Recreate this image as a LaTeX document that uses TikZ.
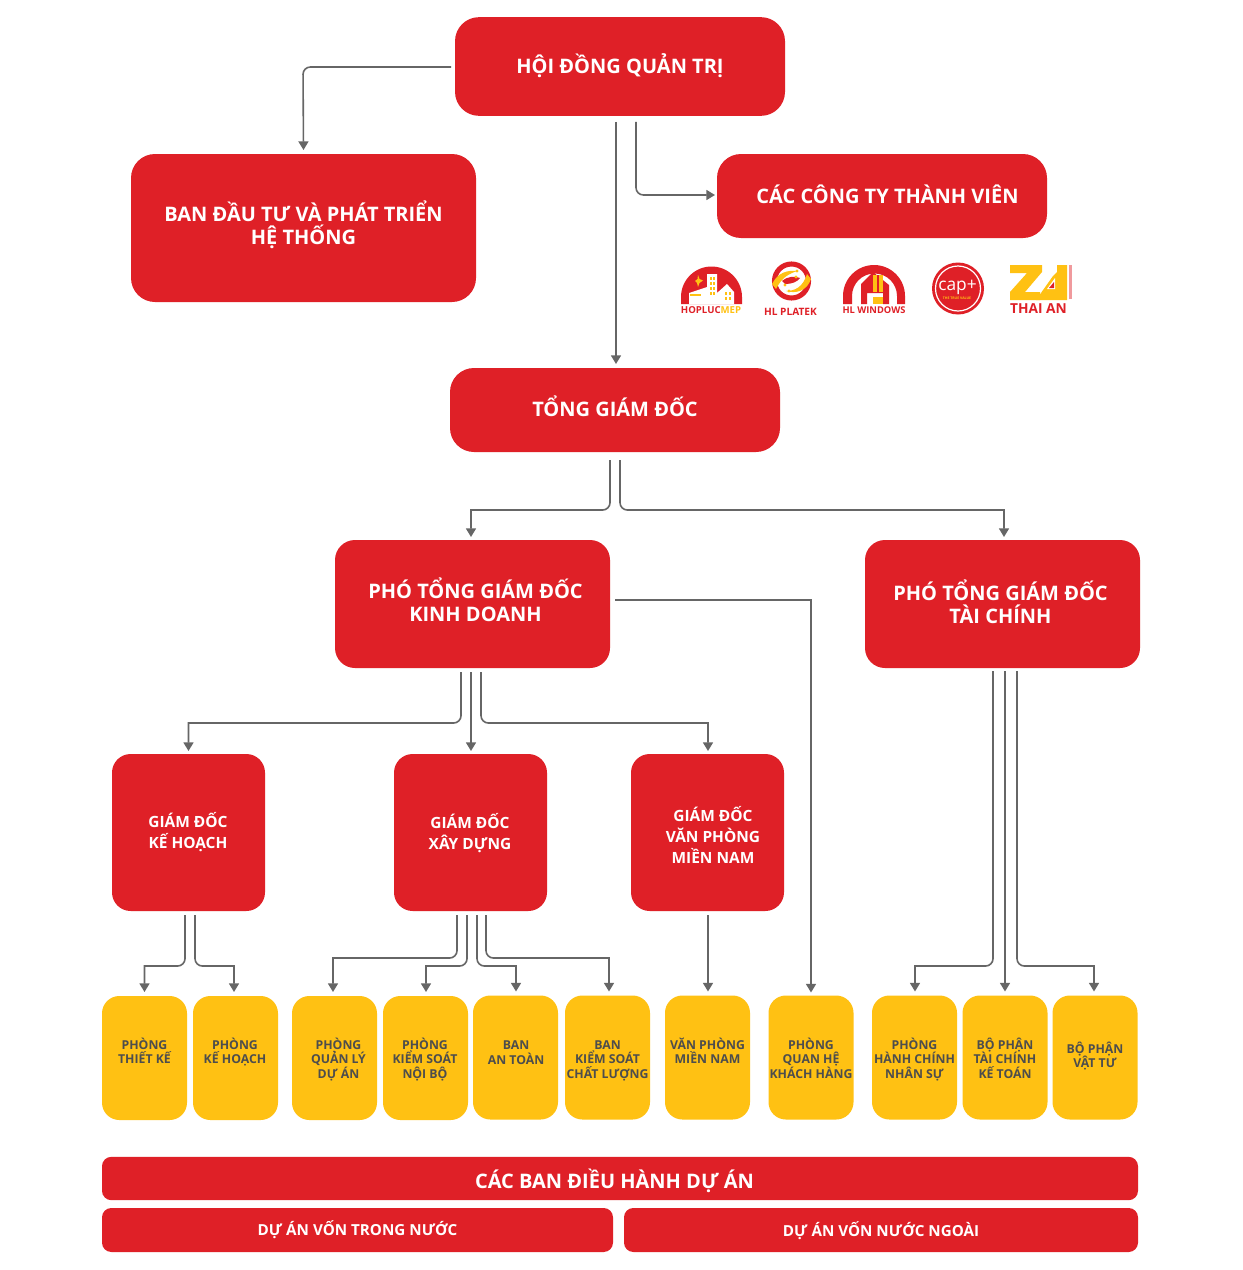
\documentclass[tikz,border=0pt]{standalone}
\usepackage{fontspec}
\setmainfont{Open Sans}[BoldFont=* Bold]
\usetikzlibrary{calc,arrows.meta}
\definecolor{rd}{HTML}{DF2027}
\definecolor{yl}{HTML}{FFC113}
\definecolor{gr}{HTML}{666666}
\definecolor{tx}{HTML}{4D4D4D}
\newcommand{\fs}[2]{\fontsize{#1}{#2}\selectfont}
% text block: dx right, dy up (in px) from the node centre
\newcommand{\T}[3]{\makebox[0pt]{\hspace*{\dimexpr#1pt*3/2\relax}\raisebox{\dimexpr#2pt*3/4-2.5pt-.357em+.2\baselineskip\relax}[0pt][0pt]{\begin{tabular}{@{}c@{}}#3\end{tabular}}}}
\newcommand{\s}[1]{\smash{#1}}
\tikzset{
 x=0.75pt,y=-0.75pt,
 base/.style={inner sep=0pt,outer sep=0pt,font=\bfseries},
 big/.style={base,fill=rd,text=white,rounded corners=18pt,font=\bfseries\fs{15}{17}},
 mid/.style={base,fill=rd,text=white,rounded corners=14pt,minimum width=114.75pt,minimum height=117.75pt,font=\bfseries\fs{11.6}{15.7}},
 ybox/.style={base,fill=yl,text=tx,rounded corners=13pt,minimum width=63.75pt,minimum height=93pt,font=\bfseries\fs{9.2}{10.9}},
 bar/.style={base,fill=rd,text=white,rounded corners=7pt},
 conn/.style={draw=gr,line width=1.2pt,-{Triangle[length=6.5pt,width=7.5pt]}},
 rc/.style={rounded corners=5.5pt},
 logotxt/.style={base,text=rd},
}
\begin{document}
\begin{tikzpicture}
\useasboundingbox (0,0) rectangle (1242,1270);
\path[fill=white] (0,0) rectangle (1242,1270);
% main boxes
\node[big,minimum width=247.5pt,minimum height=74pt] (hdqt) at (620,66.5) {\T{0}{-1.5}{\s{HỘI ĐỒNG QUẢN TRỊ}}};
\node[big,minimum width=258.75pt,minimum height=111pt] (ban) at (303.5,228) {\T{0}{0.5}{\s{BAN ĐẦU TƯ VÀ PHÁT TRIỂN}\\\s{HỆ THỐNG}}};
\node[big,minimum width=247.5pt,minimum height=63pt] (cty) at (882,196) {\T{5.5}{-2}{\s{CÁC CÔNG TY THÀNH VIÊN}}};
\node[big,minimum width=247.5pt,minimum height=63pt] (tgd) at (615,410) {\T{0}{-1}{\s{TỔNG GIÁM ĐỐC}}};
\node[big,rounded corners=15pt,minimum width=206.25pt,minimum height=96pt] (kd) at (472.5,604) {\T{3}{-0.5}{\s{PHÓ TỔNG GIÁM ĐỐC}\\\s{KINH DOANH}}};
\node[big,rounded corners=15pt,minimum width=206.25pt,minimum height=96pt] (tc) at (1002.5,604) {\T{-2}{-2}{\s{PHÓ TỔNG GIÁM ĐỐC}\\\s{TÀI CHÍNH}}};
\node[mid] (kh) at (188.5,832.5) {\T{-0.5}{-1}{\s{GIÁM ĐỐC}\\\s{KẾ HOẠCH}}};
\node[mid] (xd) at (470.5,832.5) {\T{-0.5}{-2}{\s{GIÁM ĐỐC}\\\s{XÂY DỰNG}}};
\node[mid] (vp) at (707.5,832.5) {\T{5.5}{-5.5}{\s{GIÁM ĐỐC}\\\s{VĂN PHÒNG}\\\s{MIỀN NAM}}};
% yellow
\node[ybox] (y1) at (144.5,1058) {\T{0}{6}{\s{PHÒNG}\\\s{THIẾT KẾ}}};
\node[ybox] (y2) at (235.5,1058) {\T{-0.5}{6}{\s{PHÒNG}\\\s{KẾ HOẠCH}}};
\node[ybox] (y3) at (334.5,1058) {\T{4}{-1}{\s{PHÒNG}\\\s{QUẢN LÝ}\\\s{DỰ ÁN}}};
\node[ybox] (y4) at (425.5,1058) {\T{-0.5}{-1}{\s{PHÒNG}\\\s{KIỂM SOÁT}\\\s{NỘI BỘ}}};
\node[ybox] (y5) at (515.5,1057.5) {\T{0.5}{5}{\s{BAN}\\\s{AN TOÀN}}};
\node[ybox] (y6) at (607.5,1057.5) {\T{0}{-1.5}{\s{BAN}\\\s{KIỂM SOÁT}\\\s{CHẤT LƯỢNG}}};
\node[ybox] (y7) at (707.5,1057.5) {\T{0}{5.5}{\s{VĂN PHÒNG}\\\s{MIỀN NAM}}};
\node[ybox] (y8) at (811,1057.5) {\T{0}{-1.5}{\s{PHÒNG}\\\s{QUAN HỆ}\\\s{KHÁCH HÀNG}}};
\node[ybox] (y9) at (914.5,1057.5) {\T{0}{-1.5}{\s{PHÒNG}\\\s{HÀNH CHÍNH}\\\s{NHÂN SỰ}}};
\node[ybox] (y10) at (1005,1057.5) {\T{0}{-1.5}{\s{BỘ PHẬN}\\\s{TÀI CHÍNH}\\\s{KẾ TOÁN}}};
\node[ybox] (y11) at (1095,1057.5) {\T{0}{1.5}{\s{BỘ PHẬN}\\\s{VẬT TƯ}}};
% bars
\node[bar,font=\bfseries\fs{15}{17},minimum width=777pt,minimum height=32.5pt] (b1) at (620,1178.5) {\T{-5.5}{-4}{\s{CÁC BAN ĐIỀU HÀNH DỰ ÁN}}};
\node[bar,font=\bfseries\fs{11.4}{13},minimum width=383.25pt,minimum height=33pt] (b2) at (357.5,1230) {\T{0}{0}{\s{DỰ ÁN VỐN TRONG NƯỚC}}};
\node[bar,font=\bfseries\fs{11.4}{13},minimum width=385.5pt,minimum height=33pt] (b3) at (881,1230) {\T{0}{-1}{\s{DỰ ÁN VỐN NƯỚC NGOÀI}}};
% connectors
\draw[conn,rc] (hdqt.west |- 0,67) ++(-4,0) -- ++(-148,0) -- ($(ban.north)+(0,-4)$);
\draw[conn] ($(hdqt.south)+(-4,6)$) -- ($(tgd.north)+(1,-4)$);
\draw[conn,rc] ($(hdqt.south)+(16,6)$) |- ($(cty.west)+(-2,-1)$);
\coordinate (t1) at ($(tgd.south)+(-5,8)$);
\coordinate (t2) at ($(tgd.south)+(5,8)$);
\draw[conn] (t1) [rc] -- ++(0,50) [sharp corners] -| ($(kd.north)+(-1.5,-3)$);
\draw[conn] (t2) [rc] -- ++(0,50) [sharp corners] -| ($(tc.north)+(1.5,-3)$);
\draw[conn] ($(kd.east)+(5,-4)$) -| ($(y8.north)+(0,-3)$);
\draw[conn] ($(kd.south)+(-11.5,4)$) [rc] -- ++(0,51) [sharp corners] -| ($(kh.north)+(0,-3)$);
\draw[conn] ($(kd.south)+(-1.5,4)$) -- ($(xd.north)+(0.5,-3)$);
\draw[conn] ($(kd.south)+(8.5,4)$) [rc] -- ++(0,51) [sharp corners] -| ($(vp.north)+(0.5,-3)$);
\draw[conn] ($(kh.south)+(-3.5,4)$) [rc] -- ++(0,51) [sharp corners] -| ($(y1.north)+(0,-4)$);
\draw[conn] ($(kh.south)+(6.5,4)$) [rc] -- ++(0,51) [sharp corners] -| ($(y2.north)+(-1.5,-4)$);
\draw[conn] ($(xd.south)+(-13.5,4)$) [rc] -- ++(0,43) [sharp corners] -| ($(y3.north)+(-1.5,-4)$);
\draw[conn] ($(xd.south)+(-3.5,4)$) [rc] -- ++(0,51) [sharp corners] -| ($(y4.north)+(0.5,-4)$);
\draw[conn] ($(xd.south)+(6.5,4)$) [rc] -- ++(0,51) [sharp corners] -| ($(y5.north)+(0.5,-4)$);
\draw[conn] ($(xd.south)+(15.5,4)$) [rc] -- ++(0,43) [sharp corners] -| ($(y6.north)+(1.5,-4)$);
\draw[conn] ($(vp.south)+(0.5,4)$) -- ($(y7.north)+(0.5,-4)$);
\draw[conn] ($(tc.south)+(-9.5,3)$) [rc] -- ++(0,295) [sharp corners] -| ($(y9.north)+(0.5,-4)$);
\draw[conn] ($(tc.south)+(2.5,3)$) -- ($(y10.north)+(0,-4)$);
\draw[conn] ($(tc.south)+(14.5,3)$) [rc] -- ++(0,295) [sharp corners] -| ($(y11.north)+(-1,-4)$);
% logo 1
\fill[rd] (681,304) -- (681,297) arc (180:360:30.5) -- (742,304) -- cycle;
\fill[white] (689,304) -- (689,293) -- (707,287) -- (707,274) -- (717,274) -- (717,293) -- (727,284) -- (734,292) -- (734,304) -- cycle;
\fill[yl] (695,281) -- (697.5,279) -- (698,275) -- (699.5,279) -- (703,280.5) -- (699.5,283) -- (698,287) -- (697,283) -- cycle;
\foreach \x in {709.5,713}{\foreach \y in {277,282,287,292}{\fill[yl] (\x,\y) rectangle +(2.2,3);}}
\foreach \x in {725,729}{\foreach \y in {292,297}{\fill[yl] (\x,\y) rectangle +(2.2,3);}}
\fill[yl] (690,294) rectangle (701,296);
\node[logotxt,font=\bfseries\fs{7.2}{8}] (lg1) at (711,310) {HOPLUC\textcolor{yl}{MEP}};
% logo 2
\draw[rd,line width=3.8pt] (791.5,281) circle (17);
\fill[yl] (772,284) .. controls (778,272) and (788,270) .. (797,271) .. controls (789,274) and (782,277) .. (776,289) -- cycle;
\fill[yl] (811,279) .. controls (807,291) and (796,294) .. (786,291) .. controls (795,291) and (803,287) .. (807,274) -- cycle;
\fill[rd] (782,281) .. controls (788,276) and (795,276) .. (800,278) .. controls (797,282) and (792,284) .. (785,284) -- cycle;
\foreach \p in {(797,271),(796,277),(785,285),(789,291)}{\fill[yl] \p circle (1.6);}
\node[logotxt,font=\bfseries\fs{7.6}{8}] (lg2) at (790.5,312) {HL PLATEK};
% logo 3
\fill[rd] (843,304) -- (843,296) arc (180:360:31) -- (905,304) -- (897,304) -- (897,296) arc (360:180:22.5) -- (852,304) -- cycle;
\fill[rd] (861,304) -- (861,284) -- (873,272) -- (889,285) -- (889,304) -- (883,304) -- (883,293) -- (867,293) -- (867,304) -- cycle;
\fill[yl] (873,275) rectangle (883,292);
\fill[yl] (873,297) rectangle (883,304);
\fill[rd] (877,275) rectangle (878.5,292);
\node[logotxt,font=\bfseries\fs{7}{8}] (lg3) at (874,310) {HL WINDOWS};
% logo 4
\fill[rd] (958,288.5) circle (26);
\draw[white,line width=0.9pt] (958,288.5) circle (22.5);
\node[base,text=white,font=\fs{13}{14}] (lg4) at (957.5,287) {cap+};
\node[base,text=yl,font=\bfseries\fs{2.6}{3}] (lg4b) at (957,298) {THE TRUE VALUE};
% logo 5
\fill[yl] (1010,265) -- (1042,265) -- (1042,272) -- (1025,292) -- (1040,292) -- (1040,300) -- (1010,300) -- (1010,292) -- (1027,273) -- (1010,273) -- cycle;
\fill[yl] (1036,300) -- (1053,276) -- (1057,272) -- (1057,265) -- (1067,265) -- (1067,300) -- cycle;
\fill[white] (1047,289) -- (1055,278) -- (1055,289) -- cycle;
\fill[rd] (1049,288) -- (1054,282) -- (1054,288) -- cycle;
\fill[rd,opacity=.45] (1069,265) rectangle (1072,299);
\node[logotxt,font=\bfseries\fs{10.3}{11}] (lg5) at (1038.5,309) {THAI AN};
\end{tikzpicture}
\end{document}
